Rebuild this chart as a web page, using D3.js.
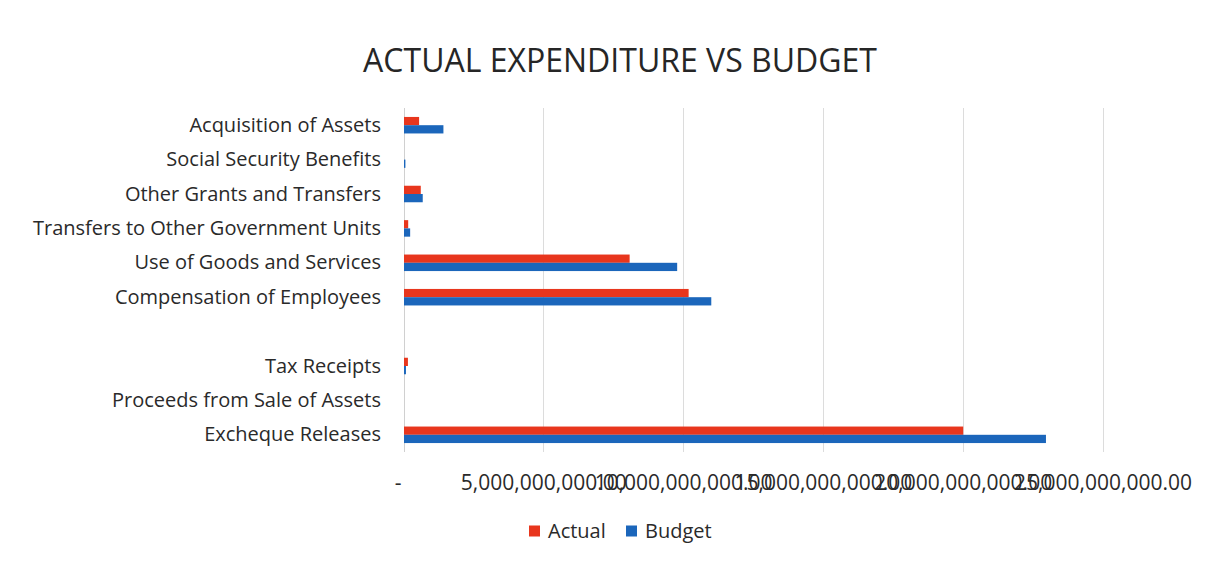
<!DOCTYPE html>
<html lang="en">
<head>
    <meta charset="UTF-8">
    <script src="https://d3js.org/d3.v7.min.js"></script>
    <style>
        body { margin: 0; background: #fff; font-family: "Open Sans", sans-serif; }
        .grid line { stroke: #dcdcdc; stroke-width: 1; shape-rendering: crispEdges; }
        .cat-label, .tick-label, .legend-label { fill: #2a2a2a; }
    </style>
</head>
<body>
    <svg id="canvas" width="1220" height="563"></svg>
    <script>
        // categories from top to bottom (blank row between the two groups)
        const categories = [
            "Acquisition of Assets",
            "Social Security Benefits",
            "Other Grants and Transfers",
            "Transfers to Other Government Units",
            "Use of Goods and Services",
            "Compensation of Employees",
            "",
            "Tax Receipts",
            "Proceeds from Sale of Assets",
            "Excheque Releases"
        ];
        // values in shillings
        const actual = [0.54e9, 0.0, 0.60e9, 0.15e9, 8.07e9, 10.18e9, 0, 0.14e9, 0, 20.0e9];
        const budget = [1.41e9, 0.05e9, 0.67e9, 0.22e9, 9.77e9, 10.99e9, 0, 0.07e9, 0, 22.96e9];
        const seriesNames = ["Actual", "Budget"];
        const seriesColors = ["#e8361d", "#1b66bb"];
        const xTicks = [0, 5e9, 10e9, 15e9, 20e9, 25e9];

        const svg = d3.select("#canvas");
        const margins = { top: 108, left: 404, right: 117, bottom: 111 };

        const chartArea = svg.append("g")
            .attr("transform", `translate(${margins.left},${margins.top})`);

        const xScale = d3.scaleLinear().domain([0, 25e9]).range([0, 699]);
        const yScale = d3.scaleBand()
            .domain(d3.range(categories.length))
            .range([0, 344])
            .paddingInner(0.52).paddingOuter(0.26);
        const subScale = d3.scaleBand().domain([0, 1]).range([0, yScale.bandwidth()]);

        // title
        svg.append("text")
            .attr("x", 620).attr("y", 72)
            .attr("text-anchor", "middle")
            .attr("font-size", 32)
            .attr("fill", "#262626")
            .text("ACTUAL EXPENDITURE VS BUDGET");

        // vertical grid
        chartArea.append("g").attr("class", "grid")
            .selectAll("line")
            .data(xTicks.slice(1))
            .join("line")
            .attr("x1", d => xScale(d)).attr("x2", d => xScale(d))
            .attr("y1", 0).attr("y2", 344);

        // left axis line
        chartArea.append("line")
            .attr("x1", 0).attr("x2", 0).attr("y1", 0).attr("y2", 344)
            .attr("stroke", "#d0d0d0").attr("shape-rendering", "crispEdges");

        // bars
        const rows = categories.map((c, i) => ({ i: i, vals: [actual[i], budget[i]] }));
        const gTags = chartArea.selectAll(".row")
            .data(rows)
            .join("g")
            .attr("class", "row")
            .attr("transform", d => `translate(0,${yScale(d.i)})`);

        gTags.selectAll("rect")
            .data(d => d.vals)
            .join("rect")
            .attr("x", 0)
            .attr("y", (d, j) => subScale(j))
            .attr("width", d => xScale(d))
            .attr("height", subScale.bandwidth())
            .attr("fill", (d, j) => seriesColors[j]);

        // category labels
        chartArea.selectAll(".cat-label")
            .data(categories)
            .join("text")
            .attr("class", "cat-label")
            .attr("x", -23)
            .attr("y", (d, i) => yScale(i) + yScale.bandwidth() / 2)
            .attr("dy", "0.33em")
            .attr("text-anchor", "end")
            .attr("font-size", 20)
            .text(d => d);

        // x tick labels (overlapping like the original)
        const fmt = d => d === 0 ? "-" : d3.format(",.2f")(d);
        chartArea.selectAll(".tick-label")
            .data(xTicks)
            .join("text")
            .attr("class", "tick-label")
            .attr("x", d => d === 0 ? xScale(d) - 6 : xScale(d))
            .attr("y", 375)
            .attr("dy", "0.35em")
            .attr("text-anchor", "middle")
            .attr("font-size", 21)
            .text(fmt);

        // legend
        const legend = svg.append("g").attr("transform", "translate(529,531)");
        const legendX = [0, 97];
        seriesNames.forEach((name, j) => {
            legend.append("rect")
                .attr("x", legendX[j]).attr("y", -5.5)
                .attr("width", 11).attr("height", 11)
                .attr("fill", seriesColors[j]);
            legend.append("text")
                .attr("class", "legend-label")
                .attr("x", legendX[j] + 19).attr("y", 0)
                .attr("dy", "0.35em")
                .attr("font-size", 20)
                .text(name);
        });
    </script>
</body>
</html>
